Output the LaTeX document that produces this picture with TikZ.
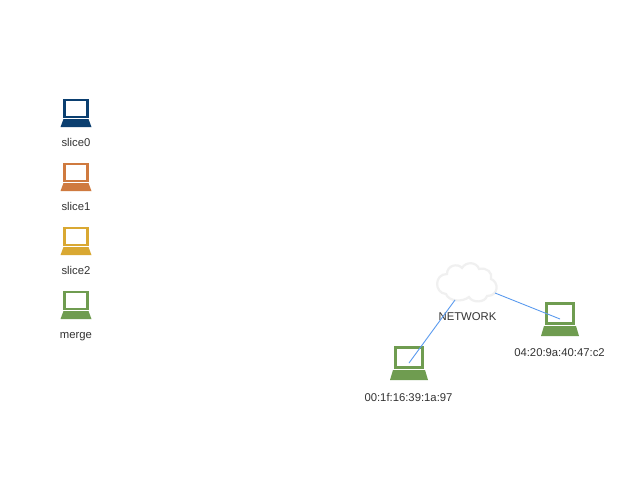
\documentclass[tikz,border=0pt]{standalone}
\usepackage{fontspec}
\setmainfont{Liberation Sans}
\definecolor{sliceblue}{HTML}{0B3F70}
\definecolor{sliceorange}{HTML}{CF7A3F}
\definecolor{sliceyellow}{HTML}{D9A832}
\definecolor{mergegreen}{HTML}{6F9C50}
\definecolor{linkblue}{HTML}{5B9BEF}
\definecolor{cloudgray}{HTML}{F0F0F0}
\definecolor{labelgray}{HTML}{333333}
\tikzset{
  x=1pt,y=-1pt,
  lbl/.style={font=\fontsize{11.3}{13}\selectfont,text=labelgray,inner sep=0pt,anchor=base},
  link/.style={draw=linkblue,line width=0.9pt},
  pics/smalllaptop/.style={code={
    \draw[#1,line width=2.2pt] (-11.5,-26.8) rectangle (11.5,-10.2);
    \fill[#1] (-12.5,-8) -- (12.5,-8) -- (15.5,0) -- (-15.5,0) -- cycle;
  }},
  pics/biglaptop/.style={code={
    \draw[#1,line width=3pt] (-13.5,-32.5) rectangle (13.5,-13);
    \fill[#1] (-16,-10) -- (16,-10) -- (19,0) -- (-19,0) -- cycle;
  }}
}
\begin{document}
\begin{tikzpicture}
\useasboundingbox (0,0) rectangle (640,480);
\fill[white] (0,0) rectangle (640,480);
\pic at (76,127) {smalllaptop=sliceblue};
\node[lbl] (s0) at (76,146) {slice0};
\pic at (76,191) {smalllaptop=sliceorange};
\node[lbl] (s1) at (76,210) {slice1};
\pic at (76,255) {smalllaptop=sliceyellow};
\node[lbl] (s2) at (76,274) {slice2};
\pic at (76,319) {smalllaptop=mergegreen};
\node[lbl] (m) at (76,338) {merge};
\pic at (409,380) {biglaptop=mergegreen};
\node[lbl] (h1) at (408.5,401) {00:1f:16:39:1a:97};
\pic at (560,336) {biglaptop=mergegreen};
\node[lbl] (h2) at (559.5,356) {04:20:9a:40:47:c2};
\draw[cloudgray,line width=2.2pt,fill=white]
  (446,294) .. controls (434,293) and (434,274) .. (447,274)
  .. controls (447,265) and (458,263) .. (462,268)
  .. controls (466,261) and (477,262) .. (479,269)
  .. controls (487,267) and (493,273) .. (491,279)
  .. controls (499,282) and (499,296) .. (487,296)
  .. controls (485,303) and (472,303) .. (469,297)
  .. controls (463,302) and (449,302) .. (446,294) -- cycle;
\node[lbl] (net) at (467.5,320) {NETWORK};
\coordinate (c1) at (455,300);
\coordinate (c2) at (495,293);
\coordinate (a1) at (409,363);
\coordinate (a2) at (560,319);
\draw[link] (a1) -- (c1);
\draw[link] (c2) -- (a2);
\end{tikzpicture}
\end{document}
